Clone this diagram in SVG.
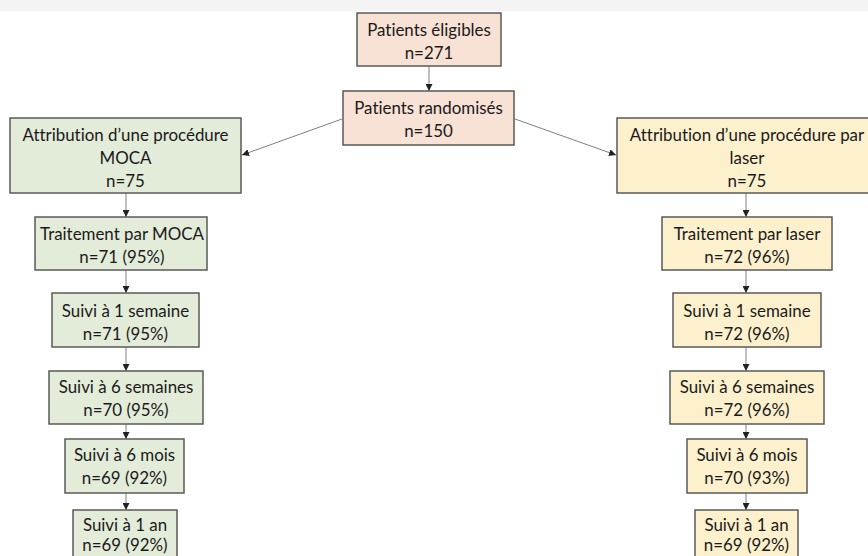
<svg xmlns="http://www.w3.org/2000/svg" width="868" height="556" viewBox="0 0 868 556">
<style>
  .box { stroke: #5a5a5a; stroke-width: 1.5; }
  .pink { fill: #f8e1d5; }
  .green { fill: #e3ebd9; }
  .yellow { fill: #fdf0cd; }
  text { font-family: "Lato", "Open Sans", sans-serif; font-size: 16.9px; fill: #1a1a1a; text-anchor: middle; font-variant-ligatures: none; }
  .conn { stroke: #808080; stroke-width: 1; fill: none; marker-end: url(#arr); }
</style>
<defs>
  <marker id="arr" viewBox="0 0 10 10" refX="10" refY="5" markerWidth="7" markerHeight="7" markerUnits="userSpaceOnUse" orient="auto">
    <path d="M0,0 L10,5 L0,10 z" fill="#222"/>
  </marker>
</defs>
<rect x="0" y="0" width="868" height="11" fill="#f3f4f3"/>
<g id="connectors">
  <line class="conn" x1="429" y1="66" x2="429" y2="91"/>
  <line class="conn" x1="342" y1="119" x2="242" y2="155"/>
  <line class="conn" x1="515" y1="119" x2="616" y2="155"/>
  <line class="conn" x1="126" y1="193" x2="126" y2="217"/>
  <line class="conn" x1="126" y1="270" x2="126" y2="293"/>
  <line class="conn" x1="126" y1="347" x2="126" y2="371"/>
  <line class="conn" x1="126" y1="424" x2="126" y2="439"/>
  <line class="conn" x1="126" y1="493" x2="126" y2="510"/>
  <line class="conn" x1="746" y1="193" x2="746" y2="217"/>
  <line class="conn" x1="746" y1="270" x2="746" y2="293"/>
  <line class="conn" x1="746" y1="347" x2="746" y2="371"/>
  <line class="conn" x1="746" y1="424" x2="746" y2="439"/>
  <line class="conn" x1="746" y1="493" x2="746" y2="510"/>
</g>
<g id="eligibles">
  <rect class="box pink" x="357" y="13" width="144" height="53"/>
  <text x="429" y="36">Patients éligibles</text>
  <text x="429" y="59">n=271</text>
</g>
<g id="randomises">
  <rect class="box pink" x="343" y="91" width="171" height="54"/>
  <text x="428.5" y="114">Patients randomisés</text>
  <text x="428.5" y="137">n=150</text>
</g>
<g id="attrib-moca">
  <rect class="box green" x="10" y="118" width="231" height="75"/>
  <text x="125.5" y="141">Attribution d’une procédure</text>
  <text x="125.5" y="164">MOCA</text>
  <text x="125.5" y="187">n=75</text>
</g>
<g id="trait-moca">
  <rect class="box green" x="35" y="217" width="172" height="53"/>
  <text x="122" y="240">Traitement par MOCA</text>
  <text x="122" y="263">n=71 (95%)</text>
</g>
<g id="suivi1s-moca">
  <rect class="box green" x="52" y="293" width="147" height="54"/>
  <text x="125.5" y="317">Suivi à 1 semaine</text>
  <text x="125.5" y="340">n=71 (95%)</text>
</g>
<g id="suivi6s-moca">
  <rect class="box green" x="49" y="371" width="154" height="53"/>
  <text x="126" y="393">Suivi à 6 semaines</text>
  <text x="126" y="416">n=70 (95%)</text>
</g>
<g id="suivi6m-moca">
  <rect class="box green" x="65" y="439" width="119" height="54"/>
  <text x="124.5" y="461">Suivi à 6 mois</text>
  <text x="124.5" y="484">n=69 (92%)</text>
</g>
<g id="suivi1a-moca">
  <rect class="box green" x="73" y="510" width="104" height="60"/>
  <text x="125" y="531">Suivi à 1 an</text>
  <text x="125" y="551">n=69 (92%)</text>
</g>
<g id="attrib-laser">
  <rect class="box yellow" x="617" y="118" width="262" height="75"/>
  <text x="747" y="141">Attribution d’une procédure par</text>
  <text x="747" y="164">laser</text>
  <text x="747" y="187">n=75</text>
</g>
<g id="trait-laser">
  <rect class="box yellow" x="662" y="217" width="170" height="53"/>
  <text x="747" y="240">Traitement par laser</text>
  <text x="747" y="263">n=72 (96%)</text>
</g>
<g id="suivi1s-laser">
  <rect class="box yellow" x="673" y="293" width="148" height="54"/>
  <text x="747" y="317">Suivi à 1 semaine</text>
  <text x="747" y="340">n=72 (96%)</text>
</g>
<g id="suivi6s-laser">
  <rect class="box yellow" x="670" y="371" width="154" height="53"/>
  <text x="747" y="393">Suivi à 6 semaines</text>
  <text x="747" y="416">n=72 (96%)</text>
</g>
<g id="suivi6m-laser">
  <rect class="box yellow" x="687" y="439" width="120" height="54"/>
  <text x="747" y="461">Suivi à 6 mois</text>
  <text x="747" y="484">n=70 (93%)</text>
</g>
<g id="suivi1a-laser">
  <rect class="box yellow" x="695" y="510" width="103" height="60"/>
  <text x="746.5" y="531">Suivi à 1 an</text>
  <text x="746.5" y="551">n=69 (92%)</text>
</g>
</svg>
